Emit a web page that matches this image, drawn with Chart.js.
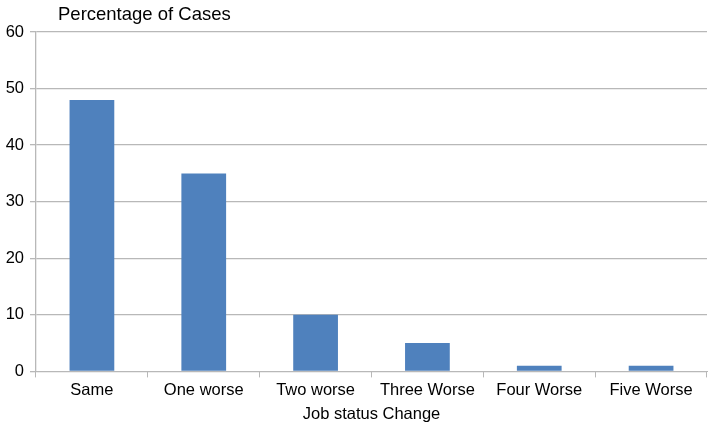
<!DOCTYPE html>
<html>
<head>
<meta charset="utf-8">
<script src="https://cdn.jsdelivr.net/npm/chart.js@4"></script>
<style>
  html, body { margin: 0; padding: 0; background: #fff; }
  #wrap { width: 714px; height: 430px; position: relative; }
</style>
</head>
<body>
<div id="wrap"><canvas id="chart"></canvas></div>
<script>
const categories = ['Same', 'One worse', 'Two worse', 'Three Worse', 'Four Worse', 'Five Worse'];
const percentages = [48, 35, 10, 5, 1, 1];
const yTicks = [0, 10, 20, 30, 40, 50, 60];

const fontFamily = '"Liberation Sans", Arial, Helvetica, sans-serif';
const gridColor = '#b8b8b8';

// title in the top-left corner, drawn on the canvas
const cornerTitle = {
    id: 'cornerTitle',
    afterDraw(chart) {
        const ctx = chart.ctx;
        ctx.save();
        ctx.font = '18.5px ' + fontFamily;
        ctx.fillStyle = '#000';
        ctx.textBaseline = 'middle';
        ctx.fillText('Percentage of Cases', 58, 15);
        ctx.restore();
    }
};

new Chart(document.getElementById('chart'), {
    type: 'bar',
    data: {
        labels: categories,
        datasets: [{
            data: percentages,
            backgroundColor: '#4f81bd',
            barPercentage: 0.4,
            categoryPercentage: 1.0
        }]
    },
    options: {
        responsive: true,
        maintainAspectRatio: false,
        animation: false,
        layout: { padding: { top: 32, right: 7, left: 0, bottom: 6 } },
        plugins: {
            legend: { display: false },
            tooltip: { enabled: false }
        },
        scales: {
            x: {
                grid: {
                    drawOnChartArea: false,
                    drawTicks: true,
                    tickLength: 6,
                    color: gridColor,
                    offset: true
                },
                border: { color: gridColor, width: 1 },
                ticks: {
                    color: '#000',
                    padding: 3,
                    font: { family: fontFamily, size: 16.5 },
                    maxRotation: 0
                },
                title: {
                    display: true,
                    text: 'Job status Change',
                    color: '#000',
                    padding: { top: 1, bottom: 0 },
                    font: { family: fontFamily, size: 16.5 }
                }
            },
            y: {
                min: 0,
                max: 60,
                afterBuildTicks(scale) {
                    scale.ticks = yTicks.map(v => ({ value: v }));
                },
                afterFit(scale) {
                    scale.width = 36;
                },
                grid: {
                    color: gridColor,
                    tickLength: 6,
                    lineWidth: 1.3
                },
                border: { color: gridColor, width: 1.3 },
                ticks: {
                    color: '#000',
                    padding: 6,
                    font: { family: fontFamily, size: 16.5 }
                }
            }
        }
    },
    plugins: [cornerTitle]
});
</script>
</body>
</html>
